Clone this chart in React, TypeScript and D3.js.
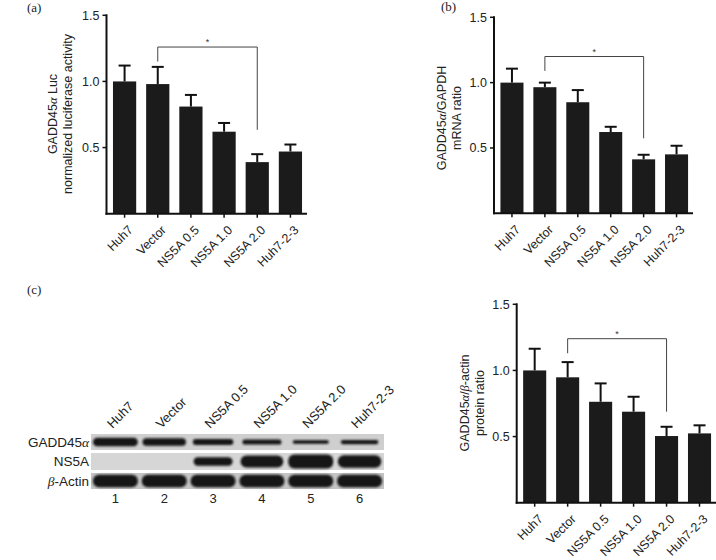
import React from "react";
import * as d3 from "d3";

// ---------- data ----------
const categories = ["Huh7", "Vector", "NS5A 0.5", "NS5A 1.0", "NS5A 2.0", "Huh7-2-3"];
const yTicks = [0.5, 1.0, 1.5];

// (a) luciferase
const lucMean = [1.0, 0.98, 0.81, 0.62, 0.39, 0.47];
const lucErr = [0.12, 0.13, 0.088, 0.066, 0.06, 0.053];
// (b) mRNA
const mrnaMean = [1.0, 0.965, 0.85, 0.622, 0.413, 0.451];
const mrnaErr = [0.107, 0.035, 0.093, 0.04, 0.035, 0.066];
// (c) protein
const proteinMean = [1.0, 0.948, 0.763, 0.688, 0.504, 0.524];
const proteinErr = [0.164, 0.115, 0.139, 0.113, 0.07, 0.061];

// significance brackets: [fromIndex, toIndex, barY, leftLegEnd, rightLegEnd]
const bracketA = [1, 4, 1.26, 1.15, 0.634];
const bracketB = [1, 4, 1.2, 1.09, 0.574];
const bracketC = [1, 4, 1.24, 1.13, 0.688];

// western blot
const laneNumbers = ["1", "2", "3", "4", "5", "6"];
const gaddBand = [1.0, 0.9, 0.7, 0.6, 0.4, 0.5];
const ns5aBand = [0, 0, 0.6, 0.85, 1.0, 0.9];
const actinBand = [1, 1, 1, 1, 1, 1];

const FONT = "Liberation Sans, Arial, Helvetica, sans-serif";
const SERIF = "Liberation Serif, Times New Roman, serif";

type PanelProps = {
  means: number[];
  errs: number[];
  x0: number;
  x1: number;
  yTop: number;
  yZero: number;
  bracket: number[];
  title: React.ReactNode[];
  titleX: number[];
  titleY: number;
};

function BarPanel({ means, errs, x0, x1, yTop, yZero, bracket, title, titleX, titleY }: PanelProps) {
  const x = d3.scaleBand<string>().domain(categories).range([x0 + 1.5, x1]).paddingInner(0.3).paddingOuter(0.15);
  const y = d3.scaleLinear().domain([0, 1.5]).range([yZero, yTop]);
  const bw = x.bandwidth();
  const cx = (i: number) => (x(categories[i]) as number) + bw / 2;
  const [bf, bt, by, bl, br] = bracket;
  const bracketPath = d3.path();
  bracketPath.moveTo(cx(bf), y(bl));
  bracketPath.lineTo(cx(bf), y(by));
  bracketPath.lineTo(cx(bt), y(by));
  bracketPath.lineTo(cx(bt), y(br));
  return (
    <g fontFamily={FONT}>
      {categories.map((c, i) => (
        <g key={c}>
          <line x1={cx(i)} x2={cx(i)} y1={y(means[i])} y2={y(means[i] + errs[i])} stroke="#111" strokeWidth={2} />
          <line x1={cx(i) - 6} x2={cx(i) + 6} y1={y(means[i] + errs[i])} y2={y(means[i] + errs[i])} stroke="#111" strokeWidth={2} />
          <rect x={x(c)} y={y(means[i])} width={bw} height={y(0) - y(means[i])} fill="#1b1b1b" />
        </g>
      ))}
      <line x1={x0} x2={x0} y1={y(1.5) - 1} y2={y(0) + 1} stroke="#111" strokeWidth={2} />
      {yTicks.map((t) => (
        <g key={t}>
          <line x1={x0 - 4} x2={x0} y1={y(t)} y2={y(t)} stroke="#111" strokeWidth={1.5} />
          <text x={x0 - 7} y={y(t)} dy="0.35em" textAnchor="end" fontSize={12.5} fill="#222">
            {d3.format(".1f")(t)}
          </text>
        </g>
      ))}
      <line x1={x0 - 1} x2={x1} y1={y(0)} y2={y(0)} stroke="#111" strokeWidth={2} />
      {categories.map((c, i) => (
        <g key={c}>
          <line x1={cx(i)} x2={cx(i)} y1={y(0)} y2={y(0) + 4} stroke="#111" strokeWidth={1.5} />
          <text
            transform={`translate(${cx(i) + 9},${y(0) + 17}) rotate(-45)`}
            textAnchor="end"
            fontSize={12.5}
            fill="#222"
          >
            {c}
          </text>
        </g>
      ))}
      <path d={bracketPath.toString()} fill="none" stroke="#444" strokeWidth={1} />
      <text x={(cx(bf) + cx(bt)) / 2} y={y(by) - 2} textAnchor="middle" fontSize={9} fill="#333">
        *
      </text>
      {title.map((t, k) => (
        <text
          key={k}
          transform={`translate(${titleX[k]},${titleY}) rotate(-90)`}
          textAnchor="middle"
          fontSize={12.5}
          fill="#222"
        >
          {t}
        </text>
      ))}
    </g>
  );
}

const Alpha = () => (
  <tspan fontFamily={SERIF} fontStyle="italic">
    α
  </tspan>
);
const Beta = () => (
  <tspan fontFamily={SERIF} fontStyle="italic">
    β
  </tspan>
);

function Blot() {
  const bx0 = 91;
  const bx1 = 384;
  const lanes = d3.scaleBand<string>().domain(laneNumbers).range([bx0, bx1]).padding(0);
  const lw = lanes.bandwidth();
  const rowTop = [434, 453, 473];
  const rowH = [16, 17, 16];
  const rowBg = ["#cfcfcf", "#d6d6d6", "#c4c4c4"];
  const bands = [gaddBand, ns5aBand, actinBand];
  const maxH = [8.5, 14, 12.5];
  const cl = (i: number) => (lanes(laneNumbers[i]) as number) + lw / 2;
  return (
    <g fontFamily={FONT}>
      <defs>
        <filter id="blur" x="-20%" y="-50%" width="140%" height="200%">
          <feGaussianBlur stdDeviation="0.9" />
        </filter>
      </defs>
      {rowTop.map((t, r) => (
        <g key={r}>
          <rect x={bx0} y={t} width={bx1 - bx0} height={rowH[r]} fill={rowBg[r]} />
          <g filter="url(#blur)">
            {bands[r].map((v, i) =>
              v > 0 ? (
                <rect
                  key={i}
                  x={cl(i) - (lw * (0.62 + 0.3 * v)) / 2}
                  y={t + rowH[r] / 2 - (maxH[r] * v) / 2}
                  width={lw * (0.62 + 0.3 * v)}
                  height={maxH[r] * v}
                  rx={Math.min(6, (maxH[r] * v) / 2)}
                  fill="#161616"
                />
              ) : null
            )}
          </g>
        </g>
      ))}
      <text x={89} y={442} dy="0.35em" textAnchor="end" fontSize={13.5} fill="#222">
        GADD45<Alpha />
      </text>
      <text x={89} y={461.5} dy="0.35em" textAnchor="end" fontSize={13.5} fill="#222">
        NS5A
      </text>
      <text x={89} y={481} dy="0.35em" textAnchor="end" fontSize={13.5} fill="#222">
        <Beta />-Actin
      </text>
      {categories.map((c, i) => (
        <text
          key={c}
          transform={`translate(${cl(i) - 3},${429}) rotate(-45)`}
          textAnchor="start"
          fontSize={13}
          fill="#222"
        >
          {c}
        </text>
      ))}
      {laneNumbers.map((n, i) => (
        <text key={n} x={cl(i)} y={503} textAnchor="middle" fontSize={13} fill="#222">
          {n}
        </text>
      ))}
    </g>
  );
}

export default function App() {
  return (
    <svg
      width={716}
      height={560}
      style={{ position: "absolute", left: 0, top: 0, background: "#fff" }}
      xmlns="http://www.w3.org/2000/svg"
    >
      <rect width={716} height={560} fill="#fff" />
      <text x={27} y={12} fontFamily={SERIF} fontSize={13} fill="#222">(a)</text>
      <text x={441} y={11} fontFamily={SERIF} fontSize={13} fill="#222">(b)</text>
      <text x={27} y={294} fontFamily={SERIF} fontSize={13} fill="#222">(c)</text>
      <BarPanel
        means={lucMean}
        errs={lucErr}
        x0={106.5}
        x1={307}
        yTop={15.3}
        yZero={213.7}
        bracket={bracketA}
        title={[
          <>GADD45<Alpha /> Luc</>,
          <>normalized luciferase activity</>,
        ]}
        titleX={[57, 72]}
        titleY={114}
      />
      <BarPanel
        means={mrnaMean}
        errs={mrnaErr}
        x0={494}
        x1={693}
        yTop={17.3}
        yZero={213.3}
        bracket={bracketB}
        title={[
          <>GADD45<Alpha />/GAPDH</>,
          <>mRNA ratio</>,
        ]}
        titleX={[446, 461]}
        titleY={118}
      />
      <BarPanel
        means={proteinMean}
        errs={proteinErr}
        x0={516.7}
        x1={716}
        yTop={304.3}
        yZero={502.7}
        bracket={bracketC}
        title={[
          <>GADD45<Alpha />/<Beta />-actin</>,
          <>protein ratio</>,
        ]}
        titleX={[469, 484]}
        titleY={403}
      />
      <Blot />
    </svg>
  );
}
